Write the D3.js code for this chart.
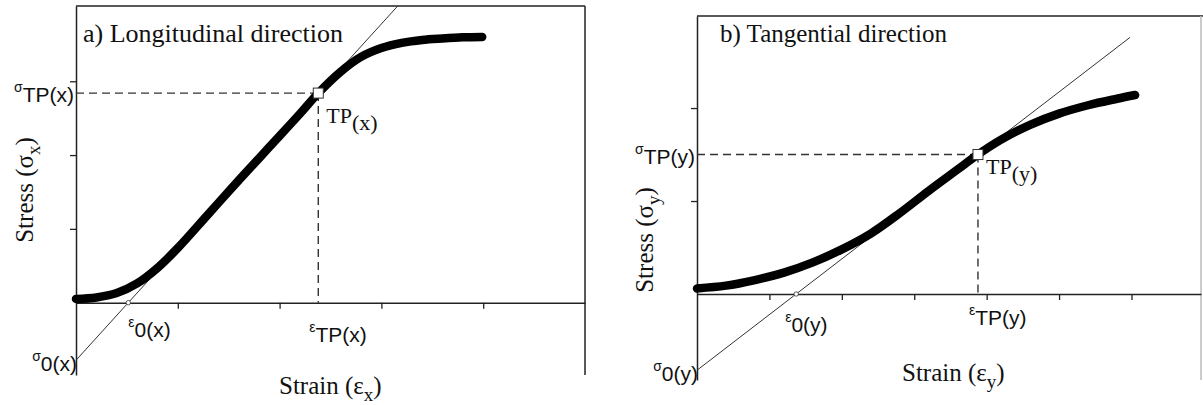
<!DOCTYPE html>
<html>
<head>
<meta charset="utf-8">
<script src="https://cdn.jsdelivr.net/npm/d3@7"></script>
<style>
  body { margin: 0; background: #fff; }
  svg { display: block; }
  .serif { font-family: "Liberation Serif", "Times New Roman", serif; fill: #111; }
  .sans { font-family: "Liberation Sans", Arial, sans-serif; fill: #111; }
</style>
</head>
<body>
<svg id="chart"></svg>
<script>
// a) longitudinal direction
var strainX = [0.00, 0.20, 0.40, 0.60, 0.80, 1.00, 1.30, 1.60, 1.90, 2.20, 2.38, 2.60, 2.80, 3.00, 3.20, 3.40, 3.60, 3.80, 3.99];
var stressX = [0.05, 0.07, 0.13, 0.26, 0.47, 0.74, 1.20, 1.66, 2.11, 2.56, 2.84, 3.13, 3.33, 3.45, 3.52, 3.56, 3.58, 3.595, 3.60];
var tangentStrainX = [0, 3.16];
var tangentStressX = [-0.78, 4.02];
var turnPointX = [2.38, 2.84];

// b) tangential direction
var strainY = [0.00, 0.40, 0.80, 1.20, 1.60, 2.00, 2.40, 2.80, 3.20, 3.60, 3.88, 4.20, 4.60, 5.00, 5.40, 5.80, 6.05];
var stressY = [0.06, 0.09, 0.15, 0.23, 0.34, 0.48, 0.65, 0.87, 1.11, 1.34, 1.50, 1.66, 1.82, 1.94, 2.03, 2.10, 2.14];
var tangentStrainY = [0, 5.98];
var tangentStressY = [-0.82, 2.76];
var turnPointY = [3.88, 1.50];

var xTicksA = [1, 2, 3, 4];
var yTicksA = [1, 2, 3];
var xTicksB = [1, 2, 3, 4, 5, 6];
var yTicksB = [1, 2];

var titles = ["a) Longitudinal direction", "b) Tangential direction"];
var dirs = ["x", "y"];

var W = 1203, H = 405;
var svg = d3.select("#chart").attr("width", W).attr("height", H);

function drawPanel(p) {
  var x = d3.scaleLinear().domain(p.xDomain).range([p.left, p.right]);
  var y = d3.scaleLinear().domain(p.yDomain).range([p.bottom, p.top]);
  var g = svg.append("g");
  var axisColor = "#222";

  // frame: top and right edges
  g.append("line").attr("x1", p.left).attr("x2", p.frameRight).attr("y1", p.top).attr("y2", p.top)
    .attr("stroke", axisColor).attr("stroke-width", 1.5);
  g.append("line").attr("x1", p.right).attr("x2", p.right).attr("y1", p.top).attr("y2", p.bottom)
    .attr("stroke", p.rightColor).attr("stroke-width", 1.5);

  // y axis (left, full height)
  var yAxis = d3.axisLeft(y).tickValues(p.yTicks).tickSize(6).tickFormat("").tickSizeOuter(0);
  var ya = g.append("g").attr("transform", "translate(" + p.left + ",0)").call(yAxis);
  // x axis at stress = 0
  var xAxis = d3.axisBottom(x).tickValues(p.xTicks).tickSize(6).tickFormat("").tickSizeOuter(0);
  var xa = g.append("g").attr("transform", "translate(0," + y(0) + ")").call(xAxis);
  [ya, xa].forEach(function(a) {
    a.select(".domain").attr("stroke", axisColor).attr("stroke-width", 1.5);
    a.selectAll(".tick line").attr("stroke", axisColor).attr("stroke-width", 1.3);
  });

  // dashed guides to the turning point
  var tp = p.tp;
  g.append("line").attr("x1", p.left).attr("x2", x(tp[0])).attr("y1", y(tp[1])).attr("y2", y(tp[1]))
    .attr("stroke", "#333").attr("stroke-width", 1.4).attr("stroke-dasharray", "8,5");
  g.append("line").attr("x1", x(tp[0])).attr("x2", x(tp[0])).attr("y1", y(tp[1])).attr("y2", y(0))
    .attr("stroke", "#333").attr("stroke-width", 1.4).attr("stroke-dasharray", "8,5");

  // tangent line
  var line = d3.line().x(function(d) { return x(d[0]); }).y(function(d) { return y(d[1]); });
  g.append("path").datum(d3.zip(p.tanX, p.tanY)).attr("d", line)
    .attr("fill", "none").attr("stroke", "#333").attr("stroke-width", 1);

  // stress-strain curve
  var curve = d3.line().curve(d3.curveCatmullRom.alpha(0.5))
    .x(function(d) { return x(d[0]); }).y(function(d) { return y(d[1]); });
  g.append("path").datum(d3.zip(p.strain, p.stress)).attr("d", curve)
    .attr("fill", "none").attr("stroke", "#000").attr("stroke-width", 8.5)
    .attr("stroke-linecap", "round").attr("stroke-linejoin", "round");

  // tangent x-intercept marker
  var slope = (p.tanY[1] - p.tanY[0]) / (p.tanX[1] - p.tanX[0]);
  var e0 = p.tanX[0] - p.tanY[0] / slope;
  g.append("circle").attr("cx", x(e0)).attr("cy", y(0)).attr("r", 2.2)
    .attr("fill", "#fff").attr("stroke", "#333").attr("stroke-width", 0.8);

  // turning point marker
  g.append("rect").attr("x", x(tp[0]) - 5).attr("y", y(tp[1]) - 5).attr("width", 10).attr("height", 10)
    .attr("fill", "#fff").attr("stroke", "#333").attr("stroke-width", 1);

  var d = p.dir;
  function tickLabel(px, py, anchor, sym, rest) {
    var t = g.append("text").attr("class", "sans").attr("x", px).attr("y", py).attr("text-anchor", anchor);
    t.append("tspan").attr("font-size", 14).attr("dy", -10).text(sym);
    t.append("tspan").attr("font-size", 21).attr("dy", 10).text(rest);
  }
  tickLabel(p.left - 2, y(tp[1]) + 9, "end", "σ", "TP(" + d + ")");
  tickLabel(p.left + 1, y(p.tanY[0]) + 11, "end", "σ", "0(" + d + ")");
  tickLabel(x(e0) + p.e0Dx, y(0) + p.eps0Dy, "start", "ε", "0(" + d + ")");
  tickLabel(x(tp[0]) - 9, y(0) + p.epsTpDy, "start", "ε", "TP(" + d + ")");

  // TP label
  var tl = g.append("text").attr("class", "serif").attr("font-size", 22)
    .attr("x", x(tp[0]) + 8).attr("y", y(tp[1]) + p.tpDy);
  tl.append("tspan").text("TP");
  tl.append("tspan").attr("dy", 7).text("(" + d + ")");

  // title
  g.append("text").attr("class", "serif").attr("font-size", p.titleSize)
    .attr("x", p.left + p.titleDx).attr("y", 42).text(p.title);

  // axis titles
  var xt = g.append("text").attr("class", "serif").attr("font-size", 25)
    .attr("x", p.xTitleX).attr("y", p.xTitleY);
  xt.append("tspan").text("Strain (ε");
  xt.append("tspan").attr("font-size", 19).attr("dy", 7).text(d);
  xt.append("tspan").attr("dy", -7).text(")");

  var yt = g.append("text").attr("class", "serif").attr("font-size", 25)
    .attr("text-anchor", "middle")
    .attr("transform", "translate(" + p.yTitleX + "," + p.yTitleY + ") rotate(-90)");
  yt.append("tspan").text("Stress (σ");
  yt.append("tspan").attr("font-size", 19).attr("dy", 7).text(d);
  yt.append("tspan").attr("dy", -7).text(")");
}

drawPanel({
  left: 76, right: 585, frameRight: 585, top: 6, bottom: 375, rightColor: "#222",
  xDomain: [0, 5], yDomain: [-0.98, 4.02],
  xTicks: xTicksA, yTicks: yTicksA,
  strain: strainX, stress: stressX, tanX: tangentStrainX, tanY: tangentStressX, tp: turnPointX,
  dir: dirs[0], title: titles[0], titleSize: 26, titleDx: 7, tpDy: 30,
  e0Dx: 0, eps0Dy: 34, epsTpDy: 39,
  xTitleX: 279, xTitleY: 394, yTitleX: 33, yTitleY: 190
});

drawPanel({
  left: 697, right: 1201, frameRight: 1203, top: 16, bottom: 380, rightColor: "#bbb",
  xDomain: [0, 6.96], yDomain: [-0.925, 2.99],
  xTicks: xTicksB, yTicks: yTicksB,
  strain: strainY, stress: stressY, tanX: tangentStrainY, tanY: tangentStressY, tp: turnPointY,
  dir: dirs[1], title: titles[1], titleSize: 25, titleDx: 23, tpDy: 19,
  e0Dx: -11, eps0Dy: 38, epsTpDy: 31,
  xTitleX: 902, xTitleY: 381, yTitleX: 653, yTitleY: 240
});
</script>
</body>
</html>
